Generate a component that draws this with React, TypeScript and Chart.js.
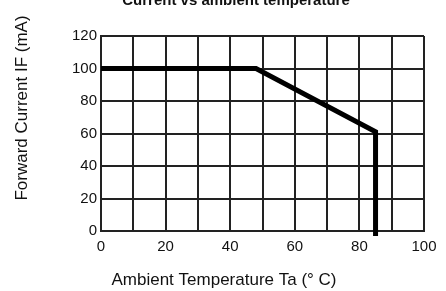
import React, { useEffect, useRef } from "react";
import { Chart, registerables } from "chart.js";

Chart.register(...registerables);

const temperature = [0, 48, 85, 85];
const forwardCurrent = [100, 100, 61, -3];
const xTickLabels = ["0", "20", "40", "60", "80", "100"];
const yTicks = [0, 20, 40, 60, 80, 100, 120];
const chartTitle = "Current vs ambient temperature";
const xTitle = "Ambient Temperature Ta (° C)";
const yTitle = "Forward Current IF (mA)";

const FONT = "'Liberation Sans', Arial, sans-serif";

const textPlugin = {
  id: "texts",
  afterDraw(chart: any) {
    const ctx = chart.ctx;
    ctx.save();
    ctx.fillStyle = "#111";
    ctx.textAlign = "center";
    ctx.textBaseline = "alphabetic";
    ctx.font = `bold 15px ${FONT}`;
    ctx.fillText(chartTitle, 236, 5);
    ctx.textBaseline = "middle";
    ctx.font = `17px ${FONT}`;
    ctx.fillText(xTitle, 224, 280);
    ctx.translate(22, 108);
    ctx.rotate(-Math.PI / 2);
    ctx.fillText(yTitle, 0, 0);
    ctx.restore();
  },
};

export default function App() {
  const ref = useRef<HTMLCanvasElement | null>(null);
  useEffect(() => {
    document.body.style.margin = "0";
    const chart = new Chart(ref.current!, {
      type: "line",
      data: {
        datasets: [
          {
            data: temperature.map((t, i) => ({ x: t, y: forwardCurrent[i] })),
            borderColor: "#000",
            borderWidth: 5,
            pointRadius: 0,
            fill: false,
            tension: 0,
            clip: false as any,
            borderJoinStyle: "miter",
          },
        ],
      },
      options: {
        animation: false,
        responsive: false,
        maintainAspectRatio: false,
        layout: { padding: { top: 36, right: 22, left: 0, bottom: 0 } },
        plugins: { legend: { display: false }, tooltip: { enabled: false }, title: { display: false } },
        scales: {
          x: {
            type: "linear",
            min: 0,
            max: 100,
            ticks: {
              stepSize: 10,
              autoSkip: false,
              maxRotation: 0,
              padding: 7,
              font: { family: FONT, size: 15 },
              color: "#111",
              callback: (v: any) => {
                const s = String(v);
                return xTickLabels.includes(s) ? s : "";
              },
            },
            grid: { color: "#222", lineWidth: 2, drawTicks: false },
            border: { color: "#222", width: 2 },
            afterFit: (s: any) => {
              s.height = 60;
            },
          },
          y: {
            type: "linear",
            min: 0,
            max: 120,
            ticks: {
              stepSize: 20,
              padding: 4,
              font: { family: FONT, size: 15 },
              color: "#111",
              callback: (v: any) => (yTicks.includes(Number(v)) ? String(v) : ""),
            },
            grid: { color: "#222", lineWidth: 2, drawTicks: false },
            border: { color: "#222", width: 2 },
            afterFit: (s: any) => {
              s.width = 101;
            },
          },
        },
      },
      plugins: [textPlugin],
    });
    return () => chart.destroy();
  }, []);
  return (
    <div style={{ position: "relative", width: 446, height: 291 }}>
      <canvas ref={ref} width={446} height={291} style={{ display: "block" }} />
    </div>
  );
}
